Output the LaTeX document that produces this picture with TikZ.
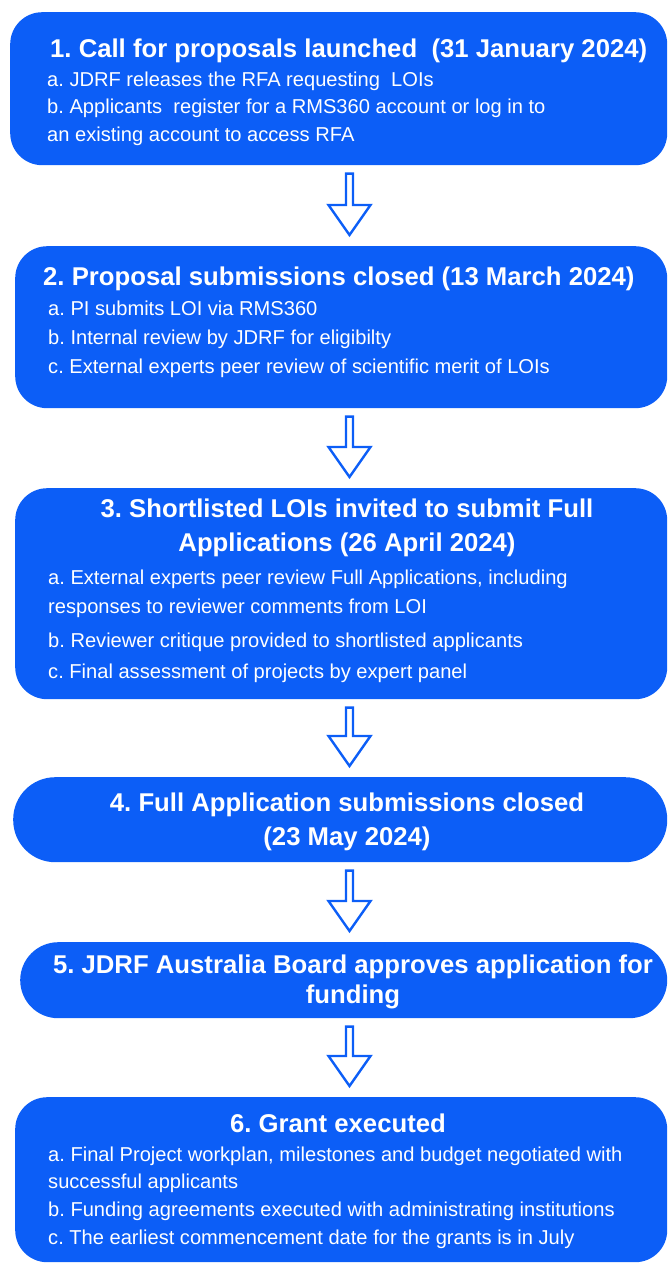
\documentclass[tikz,border=0pt]{standalone}
\usepackage{fontspec}
\setmainfont{Liberation Sans}
\usetikzlibrary{calc}
\definecolor{jblue}{RGB}{12,94,247}
\tikzset{
  box/.style={fill=jblue, anchor=north west, inner sep=0pt},
  ttl/.style={text=white, font=\fontsize{25.7}{30}\selectfont\bfseries, inner sep=0pt},
  itm/.style={text=white, font=\fontsize{20.1}{24}\selectfont, inner sep=0pt, anchor=base west},
  hollow/.style={draw=jblue, line width=2.4pt, fill=white, line join=miter},
}
\newcommand\blockarrow[2]{%
  \draw[hollow] ($(#1.south -| ax)+(-3.5,8.2)$) -- ($(#2.north -| ax)+(-3.5,-41)$)
    -- ($(#2.north -| ax)+(-21,-41)$) -- ($(#2.north -| ax)+(0,-11)$)
    -- ($(#2.north -| ax)+(21,-41)$) -- ($(#2.north -| ax)+(3.5,-41)$)
    -- ($(#1.south -| ax)+(3.5,8.2)$) -- cycle;}
\begin{document}
\frenchspacing
\begin{tikzpicture}[x=1pt,y=-1pt]
\useasboundingbox (0,0) rectangle (668,1264);
\coordinate (ax) at (349.5,0);
% boxes
\node[box, rounded corners=32pt, minimum width=657pt, minimum height=153pt] (b1) at (10,12) {};
\node[box, rounded corners=32pt, minimum width=652pt, minimum height=162pt] (b2) at (15,246) {};
\node[box, rounded corners=32pt, minimum width=652pt, minimum height=211pt] (b3) at (15,488) {};
\node[box, rounded corners=42pt, minimum width=654pt, minimum height=85pt] (b4) at (13,777) {};
\node[box, rounded corners=38pt, minimum width=647pt, minimum height=76pt] (b5) at (20,942) {};
\node[box, rounded corners=32pt, minimum width=652pt, minimum height=165pt] (b6) at (15,1097) {};
% arrows
\blockarrow{b1}{b2}
\blockarrow{b2}{b3}
\blockarrow{b3}{b4}
\blockarrow{b4}{b5}
\blockarrow{b5}{b6}
% box 1
\node[ttl, anchor=base west] (t1) at (50,57) {1. Call for proposals launched\ \ (31 January 2024)};
\node[itm] (i1a) at (47,86) {a. JDRF releases the RFA requesting\ \ LOIs};
\node[itm] (i1b) at (47,113) {b. Applicants\ \ register for a RMS360 account or log in to};
\node[itm] (i1c) at (47,141) {an existing account to access RFA};
% box 2
\node[ttl, anchor=base west] (t2) at (43,285) {2. Proposal submissions closed (13 March 2024)};
\node[itm] (i2a) at (48,315) {a. PI submits LOI via RMS360};
\node[itm] (i2b) at (48,344) {b. Internal review by JDRF for eligibilty};
\node[itm] (i2c) at (48,373) {c. External experts peer review of scientific merit of LOIs};
% box 3
\node[ttl, anchor=base] (t3a) at (347,517) {3. Shortlisted LOIs invited to submit Full};
\node[ttl, anchor=base] (t3b) at (347,551) {Applications (26 April 2024)};
\node[itm] (i3a) at (48,584) {a. External experts peer review Full Applications, including};
\node[itm] (i3a2) at (48,613) {responses to reviewer comments from LOI};
\node[itm] (i3b) at (48,647) {b. Reviewer critique provided to shortlisted applicants};
\node[itm] (i3c) at (48,678) {c. Final assessment of projects by expert panel};
% box 4
\node[ttl, anchor=base] (t4a) at (347,811) {4. Full Application submissions closed};
\node[ttl, anchor=base] (t4b) at (347,845) {(23 May 2024)};
% box 5
\node[ttl, anchor=base] (t5a) at (353,973) {5. JDRF Australia Board approves application for};
\node[ttl, anchor=base] (t5b) at (353,1003) {funding};
% box 6
\node[ttl, anchor=base] (t6) at (338,1132) {6. Grant executed};
\node[itm] (i6a) at (48,1161) {a. Final Project workplan, milestones and budget negotiated with};
\node[itm] (i6a2) at (48,1188) {successful applicants};
\node[itm] (i6b) at (48,1216) {b. Funding agreements executed with administrating institutions};
\node[itm] (i6c) at (48,1244) {c. The earliest commencement date for the grants is in July};
\end{tikzpicture}
\end{document}
